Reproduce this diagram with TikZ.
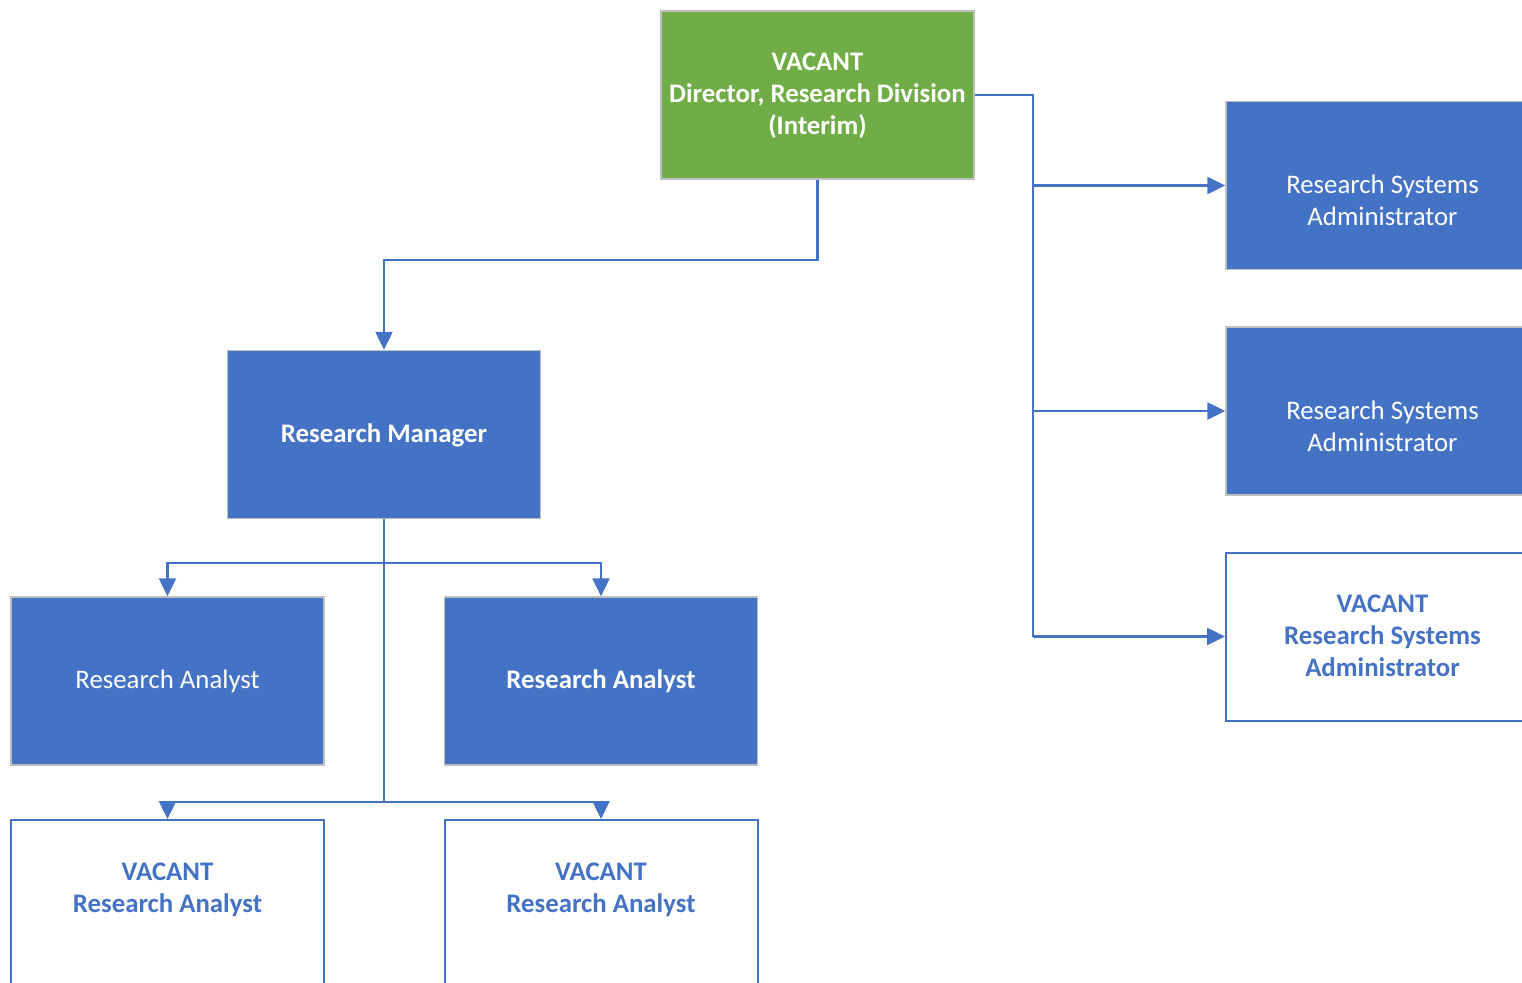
\documentclass[tikz,border=0pt]{standalone}
\usepackage{fontspec}
\setmainfont{Carlito}
\usetikzlibrary{arrows.meta}
\definecolor{ublue}{HTML}{4472C4}
\definecolor{ugreen}{HTML}{70AD47}
\definecolor{ugray}{HTML}{BFBFBF}
\newcommand{\ls}{\rule[-4pt]{0pt}{24pt}}
\begin{document}
\begin{tikzpicture}[x=1pt,y=-1pt,
  box/.style={rectangle,minimum width=313pt,minimum height=168pt,inner sep=0pt,align=center,
    font=\fontsize{26.8}{32}\selectfont},
  filled/.style={box,fill=ublue,draw=ugray,line width=1.5pt,text=white},
  green/.style={box,fill=ugreen,draw=ugray,line width=1.5pt,text=white},
  vacant/.style={box,fill=white,draw=ublue,line width=2pt,text=ublue},
  conn/.style={draw=ublue,line width=2.5pt},
  arr/.style={conn,-{Triangle[length=18pt,width=17pt]}}]
\useasboundingbox (0,0) rectangle (1522,982);
\clip (0,0) rectangle (1522,982);
\node[green] (dir) at (817.5,95) {\bfseries\ls VACANT\\\bfseries\ls Director, Research Division\\\bfseries\ls (Interim)};
\node[filled] (rm) at (384,434.5) {\bfseries\ls Research Manager};
\node[filled] (ra1) at (167.5,681) {\ls Research Analyst};
\node[filled] (ra2) at (601,681) {\bfseries\ls Research Analyst};
\node[vacant] (vra1) at (167.5,904) {\bfseries\ls VACANT\\\bfseries\ls Research Analyst\\\ls};
\node[vacant] (vra2) at (601,904) {\bfseries\ls VACANT\\\bfseries\ls Research Analyst\\\ls};
\node[filled] (rsa1) at (1382.5,185.5) {\ls\\\ls Research Systems\\\ls Administrator};
\node[filled] (rsa2) at (1382.5,411) {\ls\\\ls Research Systems\\\ls Administrator};
\node[vacant] (rsa3) at (1382.5,636.5) {\bfseries\ls VACANT\\\bfseries\ls Research Systems\\\bfseries\ls Administrator};
% director to manager
\draw[arr] (dir.south) -- (dir.south |- 0,260) -| (rm.north);
% director to systems administrators
\coordinate (trunk) at (1033,95);
\draw[conn] (dir.east) -- (trunk) -- (trunk |- rsa3.west);
\draw[arr] (trunk |- rsa1.west) -- (rsa1.west);
\draw[arr] (trunk |- rsa2.west) -- (rsa2.west);
\draw[arr] (trunk |- rsa3.west) -- (rsa3.west);
% manager to analysts
\coordinate (bus1) at (384,563);
\coordinate (bus2) at (384,802);
\draw[conn] (rm.south) -- (bus2);
\draw[arr] (bus1) -| (ra1.north);
\draw[arr] (bus1) -| (ra2.north);
\draw[arr] (bus2) -| (vra1.north);
\draw[arr] (bus2) -| (vra2.north);
\end{tikzpicture}
\end{document}
